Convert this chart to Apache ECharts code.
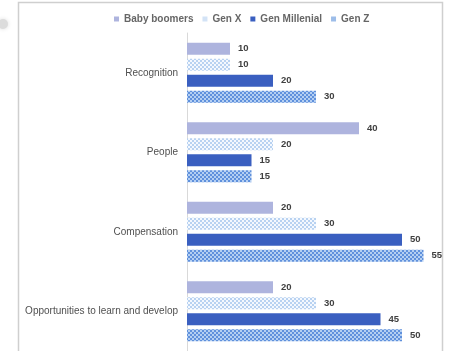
<!DOCTYPE html>
<html>
<head>
<meta charset="utf-8">
<script src="https://cdn.jsdelivr.net/npm/echarts@6/dist/echarts.min.js"></script>
<style>
  html, body { margin: 0; padding: 0; background: #fff; }
  #chart { width: 451px; height: 351px; }
</style>
</head>
<body>
<div id="chart"></div>
<script>
// data
var categories = ['Recognition', 'People', 'Compensation', 'Opportunities to learn and develop'];
var babyBoomers = [10, 40, 20, 20];
var genX = [10, 20, 30, 30];
var genMillenial = [20, 15, 50, 45];
var genZ = [30, 15, 55, 50];

// small checkered tiles for the patterned bars
function checkTile(bg, fg) {
  var c = document.createElement('canvas');
  c.width = 4; c.height = 4;
  var ctx = c.getContext('2d');
  ctx.fillStyle = bg;
  ctx.fillRect(0, 0, 4, 4);
  ctx.fillStyle = fg;
  ctx.fillRect(0, 0, 2, 2);
  ctx.fillRect(2, 2, 2, 2);
  return c;
}
var genXFill = { image: checkTile('#f4f8fe', '#b8d2f1'), repeat: 'repeat' };
var genZFill = { image: checkTile('#b4cff2', '#5f90dc'), repeat: 'repeat' };

var chart = echarts.init(document.getElementById('chart'));

var label = {
  show: true,
  position: 'right',
  distance: 8,
  fontSize: 9.5,
  fontWeight: 'bold',
  fontFamily: 'Liberation Sans',
  color: '#404040'
};

function bar(name, data, color) {
  return {
    name: name,
    type: 'bar',
    data: data,
    barWidth: 12,
    barGap: '33%',
    itemStyle: { color: color },
    label: label,
    silent: true
  };
}

var option = {
  animation: false,
  backgroundColor: '#fff',
  legend: {
    top: 9,
    left: 109,
    itemWidth: 5,
    itemHeight: 5,
    itemGap: 9,
    icon: 'rect',
    textStyle: { fontSize: 10, fontWeight: 'bold', color: '#666', fontFamily: 'Liberation Sans' },
    data: [
      { name: 'Baby boomers', itemStyle: { color: '#aeb4de' } },
      { name: 'Gen X', itemStyle: { color: '#d3e3f6' } },
      { name: 'Gen Millenial', itemStyle: { color: '#3a5fc0' } },
      { name: 'Gen Z', itemStyle: { color: '#9dbde9' } }
    ]
  },
  grid: { left: 187, top: 33, width: 258, height: 323 },
  xAxis: {
    type: 'value',
    min: 0,
    max: 60,
    show: false
  },
  yAxis: {
    type: 'category',
    inverse: true,
    data: categories,
    axisLine: { lineStyle: { color: '#d9d9d9' } },
    axisTick: { show: false },
    axisLabel: { fontSize: 10, color: '#505050', fontFamily: 'Liberation Sans', margin: 9 }
  },
  graphic: [
    {
      type: 'rect',
      shape: { x: 18.5, y: 2.5, width: 424, height: 360 },
      style: { fill: 'none', stroke: '#cfcfcf', lineWidth: 1.5 },
      silent: true
    },
    {
      type: 'circle',
      shape: { cx: 3, cy: 24, r: 5 },
      style: { fill: '#dcdcdc', shadowBlur: 4, shadowColor: '#dcdcdc' },
      silent: true
    }
  ],
  series: [
    bar('Baby boomers', babyBoomers, '#aeb4de'),
    bar('Gen X', genX, genXFill),
    bar('Gen Millenial', genMillenial, '#3a5fc0'),
    bar('Gen Z', genZ, genZFill)
  ]
};

chart.setOption(option);
</script>
</body>
</html>
